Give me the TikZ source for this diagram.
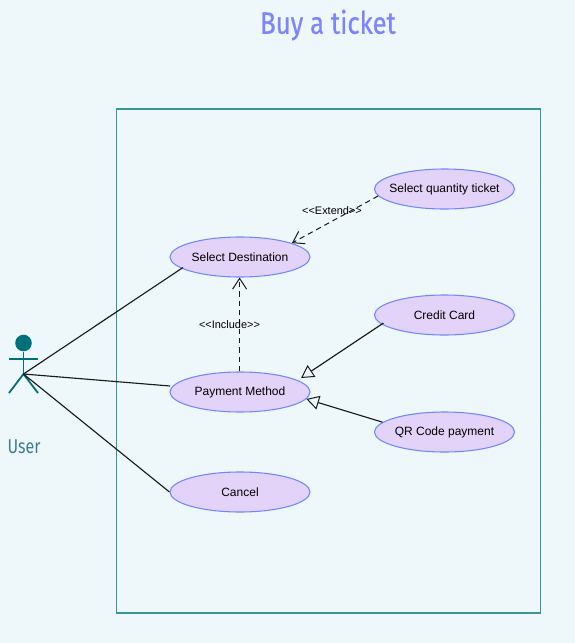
\documentclass[tikz,border=0pt]{standalone}
\usepackage{fontspec}
\setmainfont{Liberation Sans}
\newfontfamily\narrowfont[FakeStretch=0.8]{Fira Sans}
\newfontfamily\titlefont[FakeStretch=0.83,FakeBold=0.5]{Fira Sans}
\usetikzlibrary{arrows.meta,shapes.geometric}
\definecolor{bgc}{HTML}{EEF7FA}
\definecolor{framec}{HTML}{3A9599}
\definecolor{fillc}{HTML}{E3D3F8}
\definecolor{edgec}{HTML}{7088FF}
\definecolor{actorc}{HTML}{00707A}
\definecolor{titlec}{HTML}{7C85FF}
\definecolor{linec}{HTML}{1A1A1A}
\definecolor{userc}{HTML}{3F8090}
\newcommand{\lab}[1]{\makebox[0pt]{#1}}
\tikzset{
  usecase/.style={ellipse,draw=edgec,fill=fillc,line width=0.8pt,minimum width=105pt,minimum height=30pt,inner sep=0pt,font=\fontsize{9}{11}\selectfont,text=black},
  assoc/.style={draw=linec,line width=0.85pt},
  depend/.style={draw=linec,line width=0.75pt,dash pattern=on 4pt off 3pt,-{Straight Barb[length=8pt,width=10.5pt,line width=0.75pt]}},
  general/.style={draw=linec,line width=0.85pt,-{Triangle[open,fill=bgc,length=9.5pt,width=10.5pt,line width=0.75pt]}},
  stereo/.style={font=\fontsize{8.2}{9}\selectfont,text=black,inner sep=0pt},
  actorline/.style={draw=actorc,line width=1.35pt},
}
\begin{document}
\begin{tikzpicture}[x=0.75pt,y=-0.75pt]
\useasboundingbox[fill=bgc] (0,0) rectangle (575,643);
\node[draw=none,text=titlec,font=\titlefont\fontsize{23.2}{26}\selectfont,inner sep=0pt] (title) at (328,25) {Buy a ticket};
\node[draw=framec,line width=1pt,fill=none,inner sep=0pt,minimum width=318pt,minimum height=378pt] (sys) at (328.5,361) {};
% actor
\node[circle,fill=actorc,draw=none,minimum size=12.4pt,inner sep=0pt] (head) at (23.5,343) {};
\coordinate (hip) at (23.5,374);
\coordinate (armL) at (9,359);
\coordinate (armR) at (38,359);
\coordinate (legL) at (9,393);
\coordinate (legR) at (38,393);
\draw[actorline] (head) -- (hip);
\draw[actorline] (armL) -- (armR);
\draw[actorline] (legL) -- (hip) -- (legR);
\node[text=userc,font=\narrowfont\fontsize{15}{18}\selectfont,inner sep=0pt] (user) at (24,447) {User};
% use cases
\node[usecase] (sd) at (240,257) {\lab{Select Destination}};
\node[usecase] (pm) at (240,392) {\lab{Payment Method}};
\node[usecase] (ca) at (240,492) {\lab{Cancel}};
\node[usecase] (sq) at (444.5,189) {\lab{Select quantity ticket}};
\node[usecase] (cc) at (444.5,315) {\lab{Credit Card}};
\node[usecase] (qr) at (444.5,432) {\lab{QR Code payment}};
% free ends just off the ellipses
\coordinate (pmA) at ([shift={(61,-14)}]pm.center);
\coordinate (ccA) at ([shift={(-61,8)}]cc.center);
\coordinate (sdA) at ([shift={(-57,10.5)}]sd.center);
\coordinate (pmC) at ([shift={(-70,-6)}]pm.center);
% connectors
\draw[assoc] (hip) -- (sdA);
\draw[assoc] (hip) -- (pmC);
\draw[assoc] (hip) -- (ca.west);
\coordinate (extpos) at (332,211);
\coordinate (incpos) at (229.5,324.5);
\draw[depend] (sq.186) -- (sd.15);
\draw[depend] ([xshift=-0.3pt]pm.north) -- ([xshift=-0.3pt]sd.south);
\node[stereo] (ext) at (extpos) {<{}<Extend>{}>};
\node[stereo] (inc) at (incpos) {<{}<Include>{}>};
\draw[general] (ccA) -- (pmA);
\draw[general] (qr.171) -- (pm.354);
\end{tikzpicture}
\end{document}
